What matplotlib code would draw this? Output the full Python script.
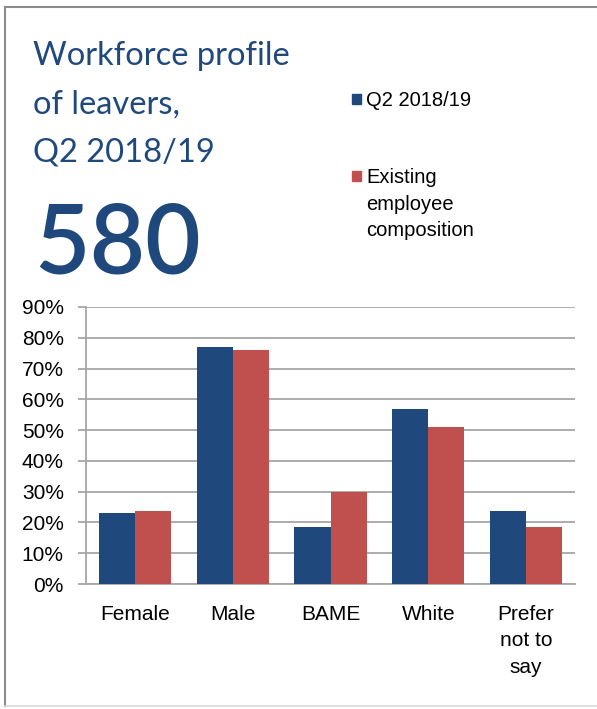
import matplotlib.pyplot as plt
from matplotlib.lines import Line2D
from matplotlib.ticker import PercentFormatter

categories = ['Female', 'Male', 'BAME', 'White', 'Prefer\nnot to\nsay']
leavers = [23, 77, 18.6, 57, 23.7]
existing = [23.7, 76, 30, 51, 18.6]
series_names = ['Q2 2018/19', 'Existing\nemployee\ncomposition']
title_lines = ['Workforce profile', 'of leavers,', 'Q2 2018/19']
headline = '580'

blue = '#1F497D'
red = '#C0504D'
grid_c = '#A6A6A6'

W, H = 597, 709
fig = plt.figure(figsize=(W / 100, H / 100), dpi=100)


def fx(x):
    return x / W


def fy(y):
    return 1 - y / H


# outer frame
fig.add_artist(Line2D([fx(5), fx(5)], [fy(7), fy(706)], color='#8C8C8C', lw=1.5))
fig.add_artist(Line2D([fx(5), fx(597)], [fy(7), fy(7)], color='#8C8C8C', lw=1.5))
fig.add_artist(Line2D([fx(5), fx(597)], [fy(706), fy(706)], color='#D9D9D9', lw=1.2))

# heading
for i, line in enumerate(title_lines):
    fig.text(fx(33), fy(65 + i * 48.5), line, fontsize=23.5, color=blue,
             family='Lato', va='baseline', ha='left')
fig.text(fx(34), fy(273), headline, fontsize=69, color=blue,
         family='Lato', fontweight='semibold', va='baseline', ha='left')

# legend
legend_colors = [blue, red]
legend_y = [94, 171]
for c, name, y in zip(legend_colors, series_names, legend_y):
    fig.add_artist(plt.Rectangle((fx(352), fy(y + 10)), 9 / W, 10 / H,
                                 color=c, transform=fig.transFigure))
    fig.text(fx(366), fy(y - 3), name, fontsize=14.5, family='Liberation Sans',
             va='top', ha='left', linespacing=1.5, color='black')

ax = fig.add_axes([fx(86), fy(584), fx(575) - fx(86), fy(307) - fy(584)])
x = list(range(len(categories)))
w = 0.37
ax.bar([i - w / 2 for i in x], leavers, width=w, color=blue, zorder=3)
ax.bar([i + w / 2 for i in x], existing, width=w, color=red, zorder=3)

ax.set_xlim(-0.5, len(categories) - 0.5)
ax.set_ylim(0, 90)
ax.set_yticks(range(0, 91, 10))
ax.yaxis.set_major_formatter(PercentFormatter(decimals=0))
ax.grid(axis='y', color=grid_c, lw=1.3, zorder=0)
ax.set_xticks(x)
ax.set_xticklabels(categories, fontsize=15, family='Liberation Sans', linespacing=1.5)
ax.tick_params(axis='x', length=0, pad=15)
ax.tick_params(axis='y', length=6, width=1.3, color=grid_c, pad=10, labelsize=15)
for lab in ax.get_yticklabels():
    lab.set_family('Liberation Sans')
for s in ['top', 'right']:
    ax.spines[s].set_visible(False)
ax.spines['left'].set_color(grid_c)
ax.spines['left'].set_linewidth(1.3)
ax.spines['bottom'].set_color(grid_c)
ax.spines['bottom'].set_linewidth(1.3)

fig.savefig('out.png', dpi=100)
